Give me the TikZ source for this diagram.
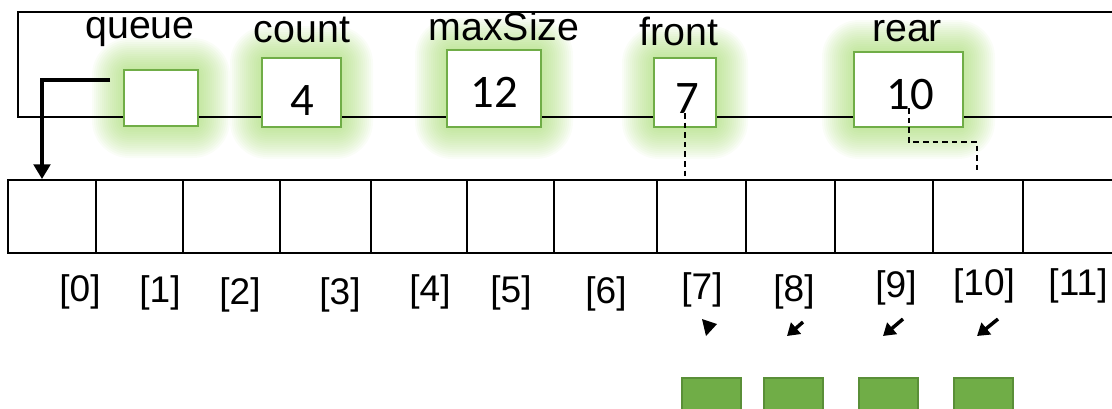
\documentclass[tikz,border=0pt]{standalone}
\usepackage{fontspec}
\setmainfont{Liberation Sans}
\newfontfamily\valfont{Carlito}
\usetikzlibrary{arrows.meta,calc}
\definecolor{boxgreen}{HTML}{70AD47}
\definecolor{glowgreen}{HTML}{9AD65E}
\definecolor{edgegreen}{HTML}{5A8F38}
\newlength\pxu
\setlength\pxu{0.75pt}
% soft green halo around a field box: x1 y1 x2 y2
\newcommand\halo[4]{%
  \foreach \e in {2,4,...,32}{%
    \pgfmathsetmacro\rr{\e*0.75+4}%
    \fill[glowgreen,opacity=0.05,rounded corners=\rr pt]
      ({#1-\e},{#2-\e}) rectangle ({#3+\e},{#4+\e});}}
\tikzset{
  frameline/.style={line width=1.5pt,draw=black},
  valbox/.style={draw=boxgreen,fill=white,line width=1.5pt,inner sep=0pt},
  cell/.style={draw=black,line width=1.5pt,inner sep=0pt,minimum height=73*\pxu},
  fieldlabel/.style={font=\fontsize{29.5}{34}\selectfont,inner sep=0pt,anchor=base},
  idxlabel/.style={font=\fontsize{27.8}{32}\selectfont,inner sep=0pt,anchor=base},
  valtext/.style={font=\valfont\fontsize{35}{40}\selectfont,inner sep=0pt,anchor=base},
  ptr/.style={line width=2.4pt,-{Triangle[length=11pt,width=12.5pt]}},
  dashline/.style={line width=1.2pt,dash pattern=on 4.2pt off 3pt},
  slant/.style={line width=2.6pt,-{Triangle[length=9pt,width=11pt]}},
  slot/.style={draw=edgegreen,fill=boxgreen,line width=1.5pt,inner sep=0pt,
    anchor=north west,minimum width=59*\pxu,minimum height=60*\pxu}
}
\begin{document}
\begin{tikzpicture}[x=0.75pt,y=-0.75pt]
\useasboundingbox (0,0) rectangle (1112,408);
\clip (0,0) rectangle (1112,408);

% halos behind the struct fields
\halo{124}{70}{198}{126}
\halo{262}{58}{341}{127}
\halo{447}{50}{541}{127}
\halo{654}{58}{716}{127}
\halo{854}{52}{963}{127}

% the struct outline
\draw[frameline] (18,12) rectangle (1140,117);

% field boxes
\node[valbox,minimum width=74*\pxu,minimum height=56*\pxu] (queue) at (161,98) {};
\node[valbox,minimum width=79*\pxu,minimum height=69*\pxu] (count) at (301.5,92.5) {};
\node[valbox,minimum width=94*\pxu,minimum height=77*\pxu] (maxsize) at (494,88.5) {};
\node[valbox,minimum width=62*\pxu,minimum height=69*\pxu] (front) at (685,92.5) {};
\node[valbox,minimum width=109*\pxu,minimum height=75*\pxu] (rear) at (908.5,89.5) {};

% field names
\node[fieldlabel] (lqueue) at (140,38) {queue};
\node[fieldlabel] (lcount) at (302,42) {count};
\node[fieldlabel] (lmax) at (504,40) {maxSize};
\node[fieldlabel] (lfront) at (679,45) {front};
\node[fieldlabel] (lrear) at (907,41) {rear};

% field values
\node[valtext] (vcount) at (302,115) {4};
\node[valtext] (vmax) at (494,107) {12};
\node[valtext] (vfront) at (687,113) {7};
\node[valtext] (vrear) at (910,109) {10};

% the array cells
\foreach \i/\l/\r in {0/8/96,1/96/183,2/183/280,3/280/371,4/371/467,5/467/554,
    6/554/657,7/657/746,8/746/835,9/835/933,10/933/1023,11/1023/1140}{
  \node[cell,minimum width={(\r-\l)*0.75pt}] (c\i) at ({(\l+\r)/2},216.5) {};
}

% index labels
\foreach \i/\x/\b in {0/80/301,1/160/302,2/240/304,3/340/304,4/430/301,5/511/302,
    6/606/303,7/702/299,8/794/301,9/896/297,10/984/295,11/1078/295}{
  \node[idxlabel] (i\i) at (\x,\b) {[\i]};
}

% queue pointer into the array
\coordinate (qs) at (110,80);
\draw[ptr] (qs) -| ($(c0.north west)+(35,0)$);

% front and rear indices
\coordinate (fp) at (685,113);
\draw[dashline] (fp) -- (fp |- c7.north);
\coordinate (rp) at (909,108);
\coordinate (rt) at (977,172);
\draw[dashline] (rp) -- ++(0,34) -| (rt);

% small arrows below the indices
\fill (702,319) -- (717,324) -- (706,336) -- cycle;
\coordinate (a8s) at (803,322);
\coordinate (a8e) at (787,336);
\coordinate (a9s) at (903,319);
\coordinate (a9e) at (883,336);
\coordinate (a10s) at (998,319);
\coordinate (a10e) at (977,336);
\draw[slant] (a8s) -- (a8e);
\draw[slant] (a9s) -- (a9e);
\draw[slant] (a10s) -- (a10e);

% queued items
\node[slot] (s1) at (681,377) {};
\node[slot] (s2) at (763,377) {};
\node[slot] (s3) at (858,377) {};
\node[slot] (s4) at (953,377) {};
\end{tikzpicture}
\end{document}
